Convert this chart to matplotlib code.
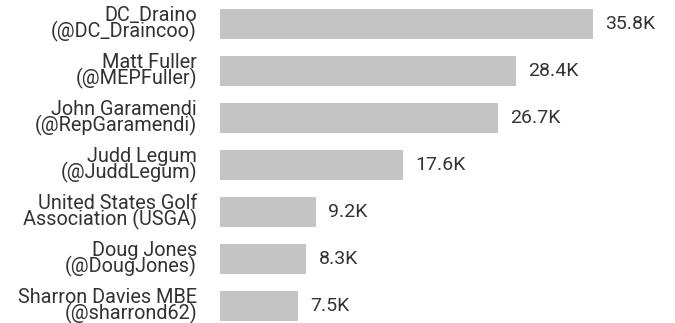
import matplotlib.pyplot as plt

# Datos del gráfico
nombres = [
    "DC_Draino\n(@DC_Draincoo)",
    "Matt Fuller\n(@MEPFuller)",
    "John Garamendi\n(@RepGaramendi)",
    "Judd Legum\n(@JuddLegum)",
    "United States Golf\nAssociation (USGA)",
    "Doug Jones\n(@DougJones)",
    "Sharron Davies MBE\n(@sharrond62)",
]
valores = [35.8, 28.4, 26.7, 17.6, 9.2, 8.3, 7.5]
etiquetas = ["35.8K", "28.4K", "26.7K", "17.6K", "9.2K", "8.3K", "7.5K"]

plt.rcParams['font.family'] = ['Roboto', 'DejaVu Sans']

fig = plt.figure(figsize=(6.75, 3.23), dpi=100)
ax = fig.add_axes([220 / 675, 0, 455 / 675, 1])

posiciones = list(range(len(valores)))
ax.barh(posiciones, valores, height=0.62, color='#c4c4c4')

for y, v, t in zip(posiciones, valores, etiquetas):
    ax.text(v + 1.15, y, t, va='center', ha='left', fontsize=14,
            color='#333333')

ax.set_yticks(posiciones)
ax.set_yticklabels(nombres, fontsize=14.3, color='#333333', linespacing=0.75)
ax.tick_params(axis='y', length=0, pad=16.5)
ax.set_xticks([])
ax.set_xlim(0, 43.67)
ax.set_ylim(6.36, -0.51)
for s in ax.spines.values():
    s.set_visible(False)

fig.savefig('out.png', dpi=100)
